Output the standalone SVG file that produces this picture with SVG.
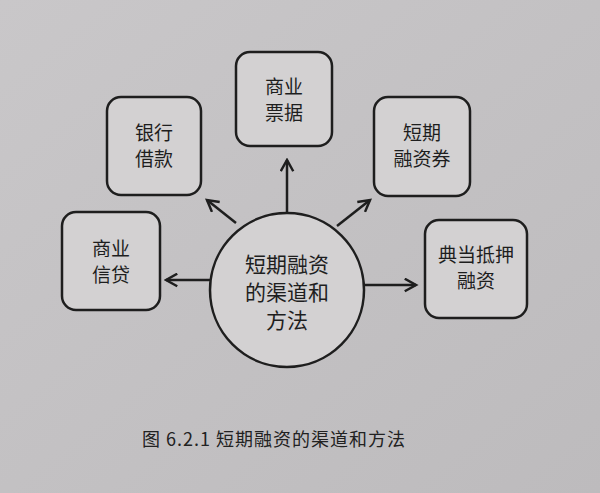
<svg xmlns="http://www.w3.org/2000/svg" width="600" height="493" viewBox="0 0 600 493">
<defs>
<marker id="ah" viewBox="0 0 12 12" refX="10" refY="6" markerWidth="6" markerHeight="6" orient="auto" markerUnits="strokeWidth"><path d="M1,1 L10,6 L1,11" fill="none" stroke="#1e1e1e" stroke-width="2"/></marker>
<linearGradient id="bg" x1="0" y1="0" x2="1" y2="1"><stop offset="0" stop-color="#c9c7c9"/><stop offset="1" stop-color="#bdbbbd"/></linearGradient>
</defs>
<style>
.box{fill:#d3d1d2;stroke:#1e1e1e;stroke-width:2.5}
.t{font-family:"Noto Sans CJK SC",sans-serif;font-size:19px;fill:#1e1e1e;text-anchor:middle}
.c{stroke:#1e1e1e;stroke-width:2.5;fill:none;marker-end:url(#ah)}
</style>
<rect width="600" height="493" fill="url(#bg)"/>
<g id="connectors">
<line class="c" x1="210" y1="280" x2="166" y2="280"/>
<line class="c" x1="236" y1="223" x2="207" y2="200"/>
<line class="c" x1="287" y1="212" x2="287" y2="160"/>
<line class="c" x1="337" y1="226" x2="370" y2="200"/>
<line class="c" x1="363" y1="285" x2="416" y2="285"/>
</g>
<g id="center"><circle cx="287" cy="290" r="77" fill="#d3d1d2" stroke="#1e1e1e" stroke-width="2.5"/>
<text class="t" x="287" y="272" style="font-size:21px">短期融资</text>
<text class="t" x="287" y="300" style="font-size:21px">的渠道和</text>
<text class="t" x="287" y="328" style="font-size:21px">方法</text></g>
<g id="n1"><rect class="box" x="62" y="212" width="98" height="98" rx="14"/><text class="t" x="111" y="256">商业</text><text class="t" x="111" y="282">信贷</text></g>
<g id="n2"><rect class="box" x="107" y="97" width="94" height="98" rx="14"/><text class="t" x="154" y="140">银行</text><text class="t" x="154" y="166">借款</text></g>
<g id="n3"><rect class="box" x="236" y="52" width="96" height="94" rx="14"/><text class="t" x="284" y="94">商业</text><text class="t" x="284" y="120">票据</text></g>
<g id="n4"><rect class="box" x="374" y="97" width="96" height="99" rx="14"/><text class="t" x="422" y="140">短期</text><text class="t" x="422" y="166">融资券</text></g>
<g id="n5"><rect class="box" x="425" y="220" width="102" height="98" rx="14"/><text class="t" x="476" y="262">典当抵押</text><text class="t" x="476" y="288">融资</text></g>
<text x="142" y="446" style="font-family:'Noto Sans CJK SC',serif;font-size:18px;fill:#222;letter-spacing:1px">图 6.2.1  短期融资的渠道和方法</text>
</svg>
